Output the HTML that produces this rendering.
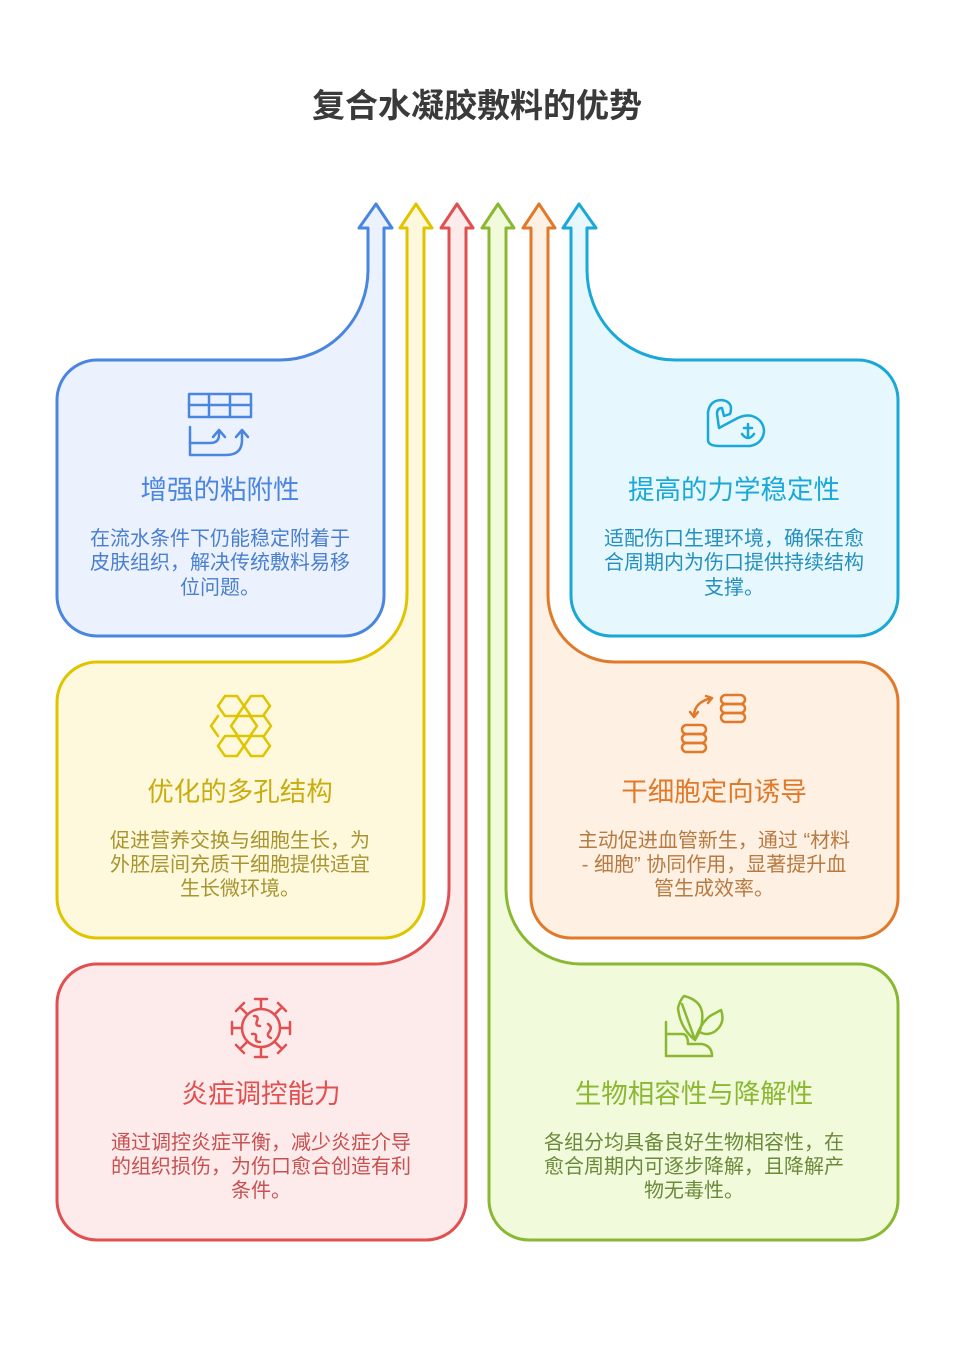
<!DOCTYPE html>
<html><head><meta charset="utf-8"><style>
html,body{margin:0;padding:0;background:#fff;}
svg{display:block;}
text{font-family:"Liberation Sans","Noto Sans CJK SC",sans-serif;}
</style></head><body>
<svg width="955" height="1364" viewBox="0 0 955 1364" xmlns="http://www.w3.org/2000/svg">
<text x="477" y="117" text-anchor="middle" font-size="33" font-weight="bold" fill="#3a3a3a">复合水凝胶敷料的优势</text>

<g stroke-width="3" stroke-linejoin="round">
<path d="M97,360 L280,360 A88 90 0 0 0 368,270 L368,228 L359,228 L376,204 L392,228 L384,228 L384,596 A40 40 0 0 1 344,636 L97,636 A40 40 0 0 1 57,596 L57,400 A40 40 0 0 1 97,360 Z" fill="#ebf2fe" stroke="#4a86e0"/>
<path d="M97,662 L340,662 A67 67 0 0 0 407,595 L407,228 L400,228 L416,204 L432,228 L424,228 L424,898 A40 40 0 0 1 384,938 L97,938 A40 40 0 0 1 57,898 L57,702 A40 40 0 0 1 97,662 Z" fill="#fef9dd" stroke="#e0c400"/>
<path d="M97,964 L374,964 A75 75 0 0 0 449,889 L449,228 L441,228 L457,204 L473,228 L466,228 L466,1200 A40 40 0 0 1 426,1240 L97,1240 A40 40 0 0 1 57,1200 L57,1004 A40 40 0 0 1 97,964 Z" fill="#fdeaea" stroke="#e05050"/>
<g transform="translate(955,0) scale(-1,1)">
<path d="M97,360 L280,360 A88 90 0 0 0 368,270 L368,228 L359,228 L376,204 L392,228 L384,228 L384,596 A40 40 0 0 1 344,636 L97,636 A40 40 0 0 1 57,596 L57,400 A40 40 0 0 1 97,360 Z" fill="#e6f7fd" stroke="#1aa8d8"/>
<path d="M97,662 L340,662 A67 67 0 0 0 407,595 L407,228 L400,228 L416,204 L432,228 L424,228 L424,898 A40 40 0 0 1 384,938 L97,938 A40 40 0 0 1 57,898 L57,702 A40 40 0 0 1 97,662 Z" fill="#fef0e3" stroke="#e07a2a"/>
<path d="M97,964 L374,964 A75 75 0 0 0 449,889 L449,228 L441,228 L457,204 L473,228 L466,228 L466,1200 A40 40 0 0 1 426,1240 L97,1240 A40 40 0 0 1 57,1200 L57,1004 A40 40 0 0 1 97,964 Z" fill="#f2fadc" stroke="#8ab832"/>
</g>
</g>

<g fill="none" stroke-width="2.5" stroke-linecap="round" stroke-linejoin="round">
<g stroke="#4a86e0">
<rect x="189" y="394" width="62" height="23"/><line x1="189" y1="405" x2="251" y2="405"/><line x1="209" y1="394" x2="209" y2="417"/><line x1="230" y1="394" x2="230" y2="417"/>
<path d="M190,427 L190,455 L226,455 Q242,455 242,440 L242,431 M236,437 L242,430 L248,437"/>
<path d="M190,443 L210,443 Q219,443 219,435 L219,431 M213,437 L219,430 L225,437"/>
</g>
<g stroke="#1aa8d8">
<path d="M708,440 L708,412 Q710,400 722,400 Q734,402 730,414 L724,416 L722,408 Q717,408 717,414 L719,428 L734,420 Q744,414 752,416 Q764,420 764,432 Q762,444 750,446 L720,446 Q708,446 708,440 Z"/>
<path d="M748,424 L748,438 M744,428 L752,428 M742,434 Q748,442 754,434"/>
</g>
<g stroke="#e0c400">
<path d="M218,706 l7,-10 h12 l7,10 l-7,10 h-12 Z M244,706 l7,-10 h12 l7,10 l-7,10 h-12 Z M231,726 l7,-10 h12 l7,10 l-7,10 h-12 Z M211,726 l7,-10 M211,726 l7,10 M264,716 l7,10 l-7,10 M218,746 l7,-10 h12 l7,10 l-7,10 h-12 Z M244,746 l7,-10 h12 l7,10 l-7,10 h-12 Z"/>
</g>
<g stroke="#e07a2a">
<rect x="721" y="695" width="24" height="9" rx="4.5"/><rect x="721" y="704" width="24" height="9" rx="4.5"/><rect x="721" y="713" width="24" height="9" rx="4.5"/>
<rect x="682" y="725" width="24" height="9" rx="4.5"/><rect x="682" y="734" width="24" height="9" rx="4.5"/><rect x="682" y="743" width="24" height="9" rx="4.5"/>
<path d="M712,698 Q694,702 694,716 M690,712 L694,717 L698,712 M706,696 L712,698 L708,703"/>
</g>
<g stroke="#e05050">
<circle cx="261" cy="1028" r="19"/>
<path d="M261,1009 v-10 M255,999 h12 M261,1047 v10 M255,1057 h12 M242,1028 h-10 M232,1022 v12 M280,1028 h10 M290,1022 v12 M247,1014 l-7,-7 M236,1011 l8,-8 M275,1014 l7,-7 M278,1003 l8,8 M247,1042 l-7,7 M236,1045 l8,8 M275,1042 l7,7 M278,1053 l8,-8"/>
<path d="M254,1016 q5,0 3,5 q-2,5 3,5 M268,1024 q5,3 1,8 q-3,4 2,6 M252,1034 q5,-1 4,4 q-1,4 4,4"/>
</g>
<g stroke="#8ab832">
<path d="M666,1022 L666,1056 M666,1034 L682,1034 Q688,1034 688,1044 L702,1044 Q712,1046 712,1056 L666,1056"/>
<path d="M695,1040 Q680,1028 678,1008 Q680,1000 684,996 Q700,1000 702,1012 Q704,1026 695,1040 Z M682,1004 L695,1040"/>
<path d="M695,1040 Q700,1024 710,1016 L721,1010 Q726,1024 714,1032 Q706,1036 700,1032"/>
</g>
</g>

<g text-anchor="middle">
<text x="220" y="499" font-size="26.5" fill="#4a86e0">增强的粘附性</text>
<g font-size="20" fill="#4a7fd0"><text x="220" y="545">在流水条件下仍能稳定附着于</text><text x="220" y="569">皮肤组织，解决传统敷料易移</text><text x="220" y="594">位问题。</text></g>

<text x="734" y="499" font-size="26.5" fill="#1aa8d8">提高的力学稳定性</text>
<g font-size="20" fill="#2590c0"><text x="734" y="545">适配伤口生理环境，确保在愈</text><text x="734" y="569">合周期内为伤口提供持续结构</text><text x="734" y="594">支撑。</text></g>

<text x="240" y="801" font-size="26.5" fill="#c8ac10">优化的多孔结构</text>
<g font-size="20" fill="#a89430"><text x="240" y="847">促进营养交换与细胞生长，为</text><text x="240" y="871">外胚层间充质干细胞提供适宜</text><text x="240" y="895">生长微环境。</text></g>

<text x="714" y="801" font-size="26.5" fill="#e07a2a">干细胞定向诱导</text>
<g font-size="20" fill="#b87a40"><text x="714" y="847">主动促进血管新生，通过 “材料</text><text x="714" y="871">- 细胞” 协同作用，显著提升血</text><text x="714" y="895">管生成效率。</text></g>

<text x="261" y="1103" font-size="26.5" fill="#e05050">炎症调控能力</text>
<g font-size="20" fill="#c85050"><text x="261" y="1149">通过调控炎症平衡，减少炎症介导</text><text x="261" y="1173">的组织损伤，为伤口愈合创造有利</text><text x="261" y="1197">条件。</text></g>

<text x="694" y="1103" font-size="26.5" fill="#8ab832">生物相容性与降解性</text>
<g font-size="20" fill="#6a8a3a"><text x="694" y="1149">各组分均具备良好生物相容性，在</text><text x="694" y="1173">愈合周期内可逐步降解，且降解产</text><text x="694" y="1197">物无毒性。</text></g>
</g>
</svg>
</body></html>
